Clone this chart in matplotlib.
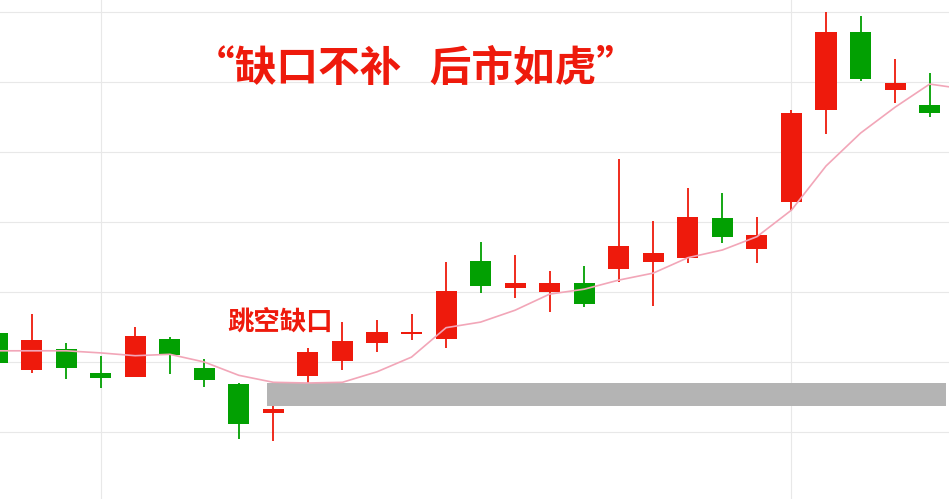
import matplotlib
matplotlib.use("Agg")
import matplotlib.pyplot as plt
import numpy as np

plt.rcParams["font.family"] = ["Noto Sans CJK SC", "DejaVu Sans"]

# ── Data (daily OHLC + moving average) ─────────────────────
OPEN = [11.41, 10.89, 11.19, 10.84, 10.79, 11.33, 10.91, 10.69, 10.27, 10.80,
        11.01, 11.27, 11.40, 11.33, 12.44, 12.06, 12.00, 12.13, 12.33, 12.43,
        12.49, 13.06, 12.61, 13.29, 14.60, 15.71, 14.89, 14.67]
HIGH = [11.46, 11.69, 11.27, 11.09, 11.50, 11.36, 11.04, 10.70, 10.37, 11.20,
        11.57, 11.60, 11.69, 12.43, 12.71, 12.53, 12.30, 12.37, 13.90, 13.01,
        13.49, 13.41, 13.07, 14.60, 16.00, 15.94, 15.33, 15.13]
LOW = [10.94, 10.84, 10.76, 10.63, 10.79, 10.83, 10.64, 9.90, 9.87, 10.70,
       10.89, 11.14, 11.31, 11.20, 11.99, 11.91, 11.71, 11.79, 12.14, 11.80,
       12.41, 12.70, 12.41, 13.16, 14.26, 15.01, 14.70, 14.50]
CLOSE = [10.99, 11.31, 10.91, 10.77, 11.37, 11.10, 10.74, 10.11, 10.33, 11.14,
         11.30, 11.43, 11.41, 12.01, 12.09, 12.13, 12.13, 11.83, 12.66, 12.56,
         13.07, 12.79, 12.81, 14.56, 15.71, 15.04, 14.99, 14.56]
MA = [11.16, 11.16, 11.16, 11.13, 11.09, 11.11, 11.00, 10.81, 10.71, 10.70,
      10.71, 10.86, 11.07, 11.49, 11.57, 11.74, 11.97, 12.04, 12.17, 12.27,
      12.49, 12.60, 12.79, 13.17, 13.80, 14.27, 14.64, 14.97, 14.90]

TITLE = "“缺口不补   后市如虎”"
GAP_LABEL = "跳空缺口"
GAP_DAY = 9          # first day that opens above the previous high

RED = "#EE1A0C"
GREEN = "#02A002"
PINK = "#F2A6B8"
GAP_GREY = "#B4B4B4"
GRID = "#E8E8E8"


def main():
    fig = plt.figure(figsize=(9.49, 4.99), dpi=100)
    ax = fig.add_axes([0, 0, 1, 1])

    n = len(OPEN)
    x = np.arange(n)

    # grid
    for yv in range(10, 17):
        ax.axhline(yv, color=GRID, lw=0.8, zorder=0)
    for xv in (3, 23):
        ax.axvline(xv, color=GRID, lw=0.8, zorder=0)

    # gap band: previous day's high up to the gap day's low
    gap_lo = HIGH[GAP_DAY - 1]
    gap_hi = LOW[GAP_DAY]
    ax.fill_between([GAP_DAY - 1.18, n - 0.52], gap_lo, gap_hi,
                    color=GAP_GREY, lw=0, zorder=1)

    # candles
    w = 0.61
    for i in x:
        o, h, l, c = OPEN[i], HIGH[i], LOW[i], CLOSE[i]
        col = RED if c >= o else GREEN
        ax.vlines(i, l, h, color=col, lw=1.3, zorder=2)
        bottom = min(o, c)
        height = max(abs(c - o), 0.025)
        ax.bar(i, height, width=w, bottom=bottom, color=col, lw=0, zorder=3)

    # moving average
    ax.plot(np.arange(len(MA)), MA, color=PINK, lw=1.2, zorder=4)

    ax.text(0.438, 0.862, TITLE, transform=ax.transAxes, ha="center", va="center",
            fontsize=30, fontweight="bold", color=RED)
    ax.text(0.295, 0.354, GAP_LABEL, transform=ax.transAxes, ha="center", va="center",
            fontsize=19, fontweight="bold", color=RED)

    ax.set_xlim(0.087, 27.56)
    ax.set_ylim(9.043, 16.171)
    ax.axis("off")

    fig.savefig("out.png", dpi=100, facecolor="white")


if __name__ == "__main__":
    main()
